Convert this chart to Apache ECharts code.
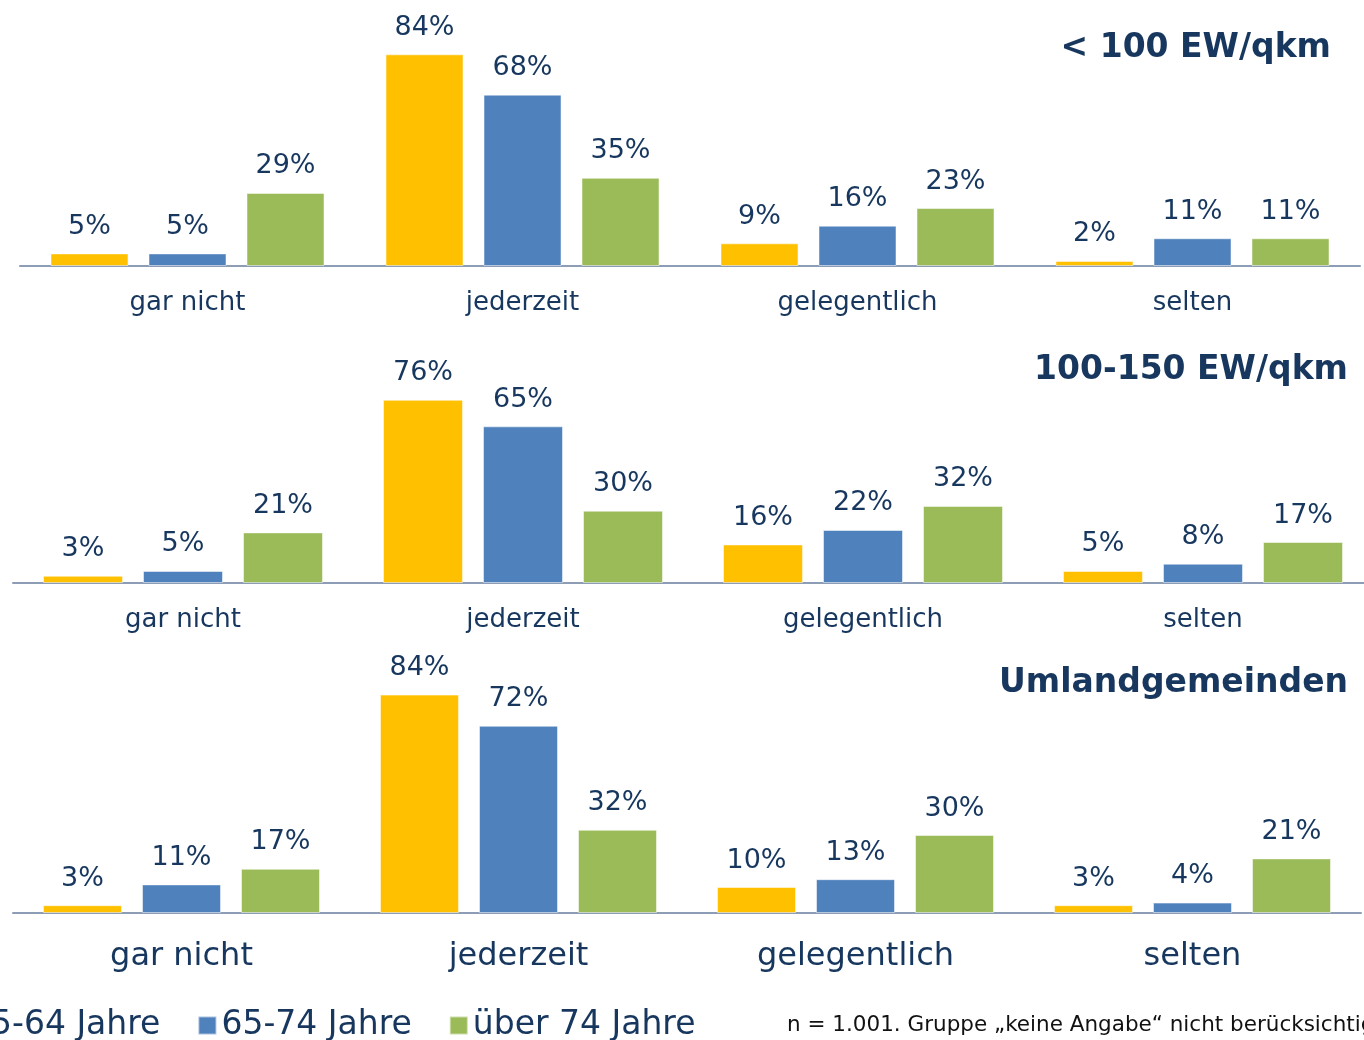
<!DOCTYPE html>
<html>
<head>
<meta charset="utf-8">
<title>Nutzung nach Altersgruppe</title>
<script src="https://cdn.jsdelivr.net/npm/echarts@6/dist/echarts.min.js"></script>
<style>
  html, body { margin: 0; padding: 0; background: #fff; }
  #main { width: 1364px; height: 1040px; }
</style>
</head>
<body>
<div id="main"></div>
<script>
var categories = ['gar nicht', 'jederzeit', 'gelegentlich', 'selten']
var seriesNames = ['55-64 Jahre', '65-74 Jahre', 'über 74 Jahre']
var panelTitles = ['< 100 EW/qkm', '100-150 EW/qkm', 'Umlandgemeinden']

// < 100 EW/qkm
var p1_55_64 = [5, 84, 9, 2]
var p1_65_74 = [5, 68, 16, 11]
var p1_ueber74 = [29, 35, 23, 11]
// 100-150 EW/qkm
var p2_55_64 = [3, 76, 16, 5]
var p2_65_74 = [5, 65, 22, 8]
var p2_ueber74 = [21, 30, 32, 17]
// Umlandgemeinden
var p3_55_64 = [3, 84, 10, 3]
var p3_65_74 = [11, 72, 13, 4]
var p3_ueber74 = [17, 32, 30, 21]

var footnote = 'n = 1.001. Gruppe \u201Ekeine Angabe\u201C nicht berücksichtigt'

var colors = ['#FFC000', '#4F81BD', '#9BBB59']
var textColor = '#17375E'
var font = 'DejaVu Sans'

var panels = [
  [p1_55_64, p1_65_74, p1_ueber74],
  [p2_55_64, p2_65_74, p2_ueber74],
  [p3_55_64, p3_65_74, p3_ueber74]
]

// Raster der drei Diagramme (mittleres ragt rechts etwas über den Rand)
var grids = [
  { left: 20, right: 4, top: 14, height: 252, outerBoundsMode: 'none' },
  { left: 13, width: 1360, top: 342, height: 241, outerBoundsMode: 'none' },
  { left: 13, right: 3, top: 653, height: 260, outerBoundsMode: 'none' }
]
var barWidths = [78, 80, 79]
var catFont = [26, 26, 32]
var catMargin = [24, 24, 28]

var xAxes = [], yAxes = [], series = []
for (var g = 0; g < 3; g++) {
  xAxes.push({
    type: 'category',
    gridIndex: g,
    data: categories,
    axisLine: { lineStyle: { color: '#8E9DB6', width: 2 } },
    axisTick: { show: false },
    axisLabel: { color: textColor, fontSize: catFont[g], fontFamily: font, margin: catMargin[g] }
  })
  yAxes.push({
    type: 'value',
    gridIndex: g,
    min: 0,
    max: 100,
    show: false
  })
  for (var s = 0; s < 3; s++) {
    series.push({
      name: seriesNames[s],
      type: 'bar',
      xAxisIndex: g,
      yAxisIndex: g,
      data: panels[g][s],
      barWidth: barWidths[g],
      barGap: (20 / barWidths[g] * 100) + '%',
      itemStyle: { color: colors[s], borderColor: 'rgba(255,255,255,0.5)', borderWidth: 1 },
      label: {
        show: true,
        position: 'top',
        distance: 13,
        formatter: '{c}%',
        color: textColor,
        fontSize: 27,
        fontFamily: font
      }
    })
  }
}

var option = {
  backgroundColor: '#fff',
  animation: false,
  title: [
    { text: panelTitles[0], right: 28, top: 27 },
    { text: panelTitles[1], right: 11, top: 349 },
    { text: panelTitles[2], right: 11, top: 662 }
  ].map(function (t) {
    t.textStyle = { color: textColor, fontSize: 33, fontWeight: 'bold', fontFamily: font }
    return t
  }),
  legend: {
    data: seriesNames,
    left: -54,
    top: 1009,
    padding: 0,
    itemWidth: 18,
    itemHeight: 18,
    itemGap: 37,
    icon: 'rect',
    textStyle: { color: textColor, fontSize: 33, fontFamily: font }
  },
  grid: grids,
  xAxis: xAxes,
  yAxis: yAxes,
  series: series,
  graphic: [{
    type: 'text',
    left: 787,
    top: 1014,
    style: { text: footnote, fill: '#111', fontSize: 21.5, fontFamily: font }
  }]
}

var myChart = echarts.init(document.getElementById('main'))
myChart.setOption(option)
</script>
</body>
</html>
